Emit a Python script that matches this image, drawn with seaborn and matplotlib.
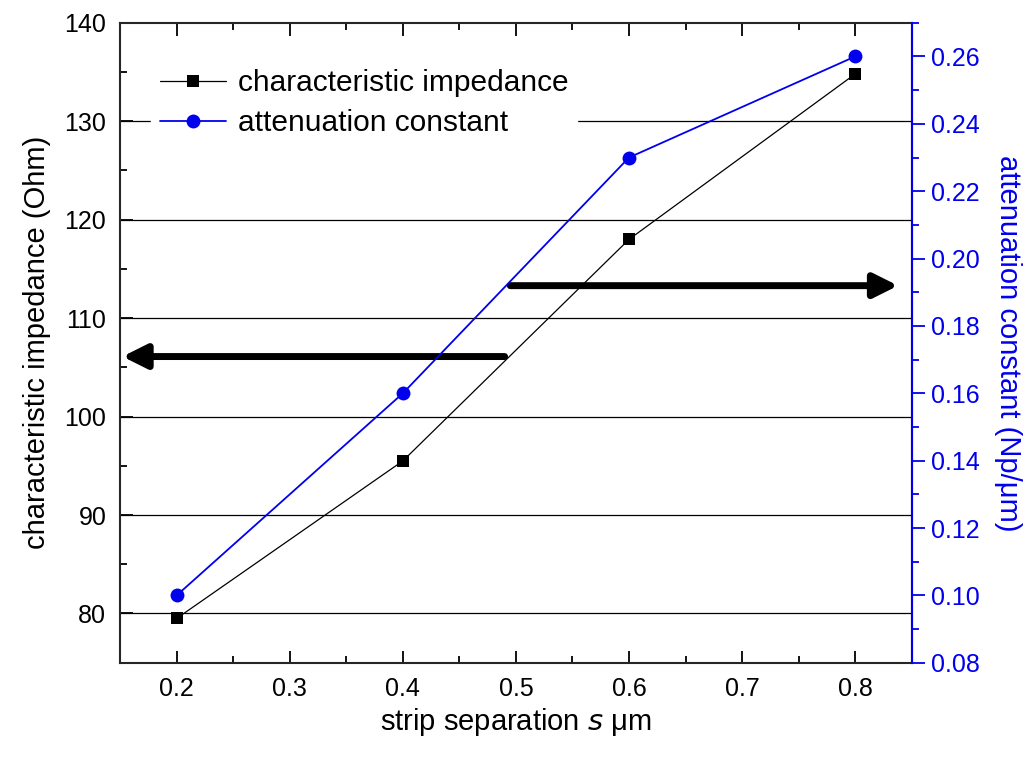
import seaborn as sns
import pandas as pd
import matplotlib.pyplot as plt
from matplotlib.ticker import MultipleLocator, FormatStrFormatter
from matplotlib.lines import Line2D

# values
separation = [0.2, 0.4, 0.6, 0.8]
impedance = [79.5, 95.5, 118.0, 134.8]
attenuation = [0.100, 0.160, 0.230, 0.260]

df = pd.DataFrame({"s": separation, "Z": impedance, "alpha": attenuation})

sns.set_style("ticks")
plt.rcParams["font.family"] = ["Liberation Sans", "DejaVu Sans"]
plt.rcParams["text.color"] = "black"
plt.rcParams["axes.labelcolor"] = "black"
plt.rcParams["xtick.color"] = "black"
plt.rcParams["ytick.color"] = "black"
plt.rcParams["xtick.direction"] = "in"
plt.rcParams["ytick.direction"] = "in"

BLUE = "#0000ee"

fig, ax1 = plt.subplots(figsize=(10.36, 7.6), dpi=100)
fig.subplots_adjust(left=0.116, right=0.880, top=0.970, bottom=0.128)
ax2 = ax1.twinx()

sns.lineplot(data=df, x="s", y="Z", ax=ax1, color="black", lw=0.9,
             marker="s", markersize=9, markeredgewidth=0, zorder=3)
sns.lineplot(data=df, x="s", y="alpha", ax=ax2, color=BLUE, lw=1.3,
             marker="o", markersize=10, markeredgewidth=0, zorder=3)

ax1.set_xlim(0.15, 0.85)
ax1.set_ylim(75, 140)
ax2.set_ylim(0.08, 0.27)

ax1.xaxis.set_major_locator(MultipleLocator(0.1))
ax1.xaxis.set_minor_locator(MultipleLocator(0.05))
ax1.xaxis.set_major_formatter(FormatStrFormatter("%.1f"))
ax1.yaxis.set_major_locator(MultipleLocator(10))
ax1.yaxis.set_minor_locator(MultipleLocator(5))
ax2.yaxis.set_major_locator(MultipleLocator(0.02))
ax2.yaxis.set_minor_locator(MultipleLocator(0.01))
ax2.yaxis.set_major_formatter(FormatStrFormatter("%.2f"))

ax1.tick_params(axis="both", which="major", labelsize=18, length=9, width=1.3,
                top=True, right=False, pad=10)
ax1.tick_params(axis="both", which="minor", length=5, width=1.3, top=True, right=False)
ax2.tick_params(axis="y", which="both", direction="out", colors=BLUE, width=1.3)
ax2.tick_params(axis="y", which="major", length=9, labelsize=18, pad=5)
ax2.tick_params(axis="y", which="minor", length=5)

for sp in ax1.spines.values():
    sp.set_linewidth(1.5)
ax2.spines["right"].set_color(BLUE)
ax2.spines["right"].set_linewidth(1.5)
ax2.spines["left"].set_visible(False)
ax2.spines["top"].set_visible(False)
ax2.spines["bottom"].set_visible(False)

# horizontal grid on the impedance axis
for g in [80, 90, 100, 110, 120, 130]:
    ax1.axhline(g, color="black", lw=0.9, zorder=1)

ax1.set_xlabel("strip separation $\\it{s}$ \u03bcm", fontsize=21, labelpad=4)
ax1.set_ylabel("characteristic impedance (Ohm)", fontsize=21, labelpad=10)
ax2.set_ylabel("attenuation constant (Np/\u03bcm)", fontsize=21, color=BLUE,
               rotation=270, labelpad=30)

# arrows pointing at the axes
ax1.annotate("", xy=(0.152, 106.1), xytext=(0.49, 106.1),
             arrowprops=dict(arrowstyle="-|>", lw=5, mutation_scale=36, color="black",
                             shrinkA=0, shrinkB=0), zorder=4)
ax1.annotate("", xy=(0.838, 113.3), xytext=(0.495, 113.3),
             arrowprops=dict(arrowstyle="-|>", lw=5, mutation_scale=36, color="black",
                             shrinkA=0, shrinkB=0), zorder=4)

handles = [
    Line2D([], [], color="black", lw=0.9, marker="s", markersize=9, markeredgewidth=0),
    Line2D([], [], color=BLUE, lw=1.3, marker="o", markersize=10, markeredgewidth=0),
]
ax2.legend(handles, ["characteristic impedance", "attenuation constant"],
           loc="upper left", bbox_to_anchor=(0.02, 0.965), fontsize=21.5,
           frameon=True, facecolor="white", edgecolor="white", framealpha=1,
           handlelength=2.2, handletextpad=0.4, labelspacing=0.4, borderpad=0.3)
if ax1.get_legend() is not None:
    ax1.get_legend().remove()

fig.savefig("out.png", dpi=100)
